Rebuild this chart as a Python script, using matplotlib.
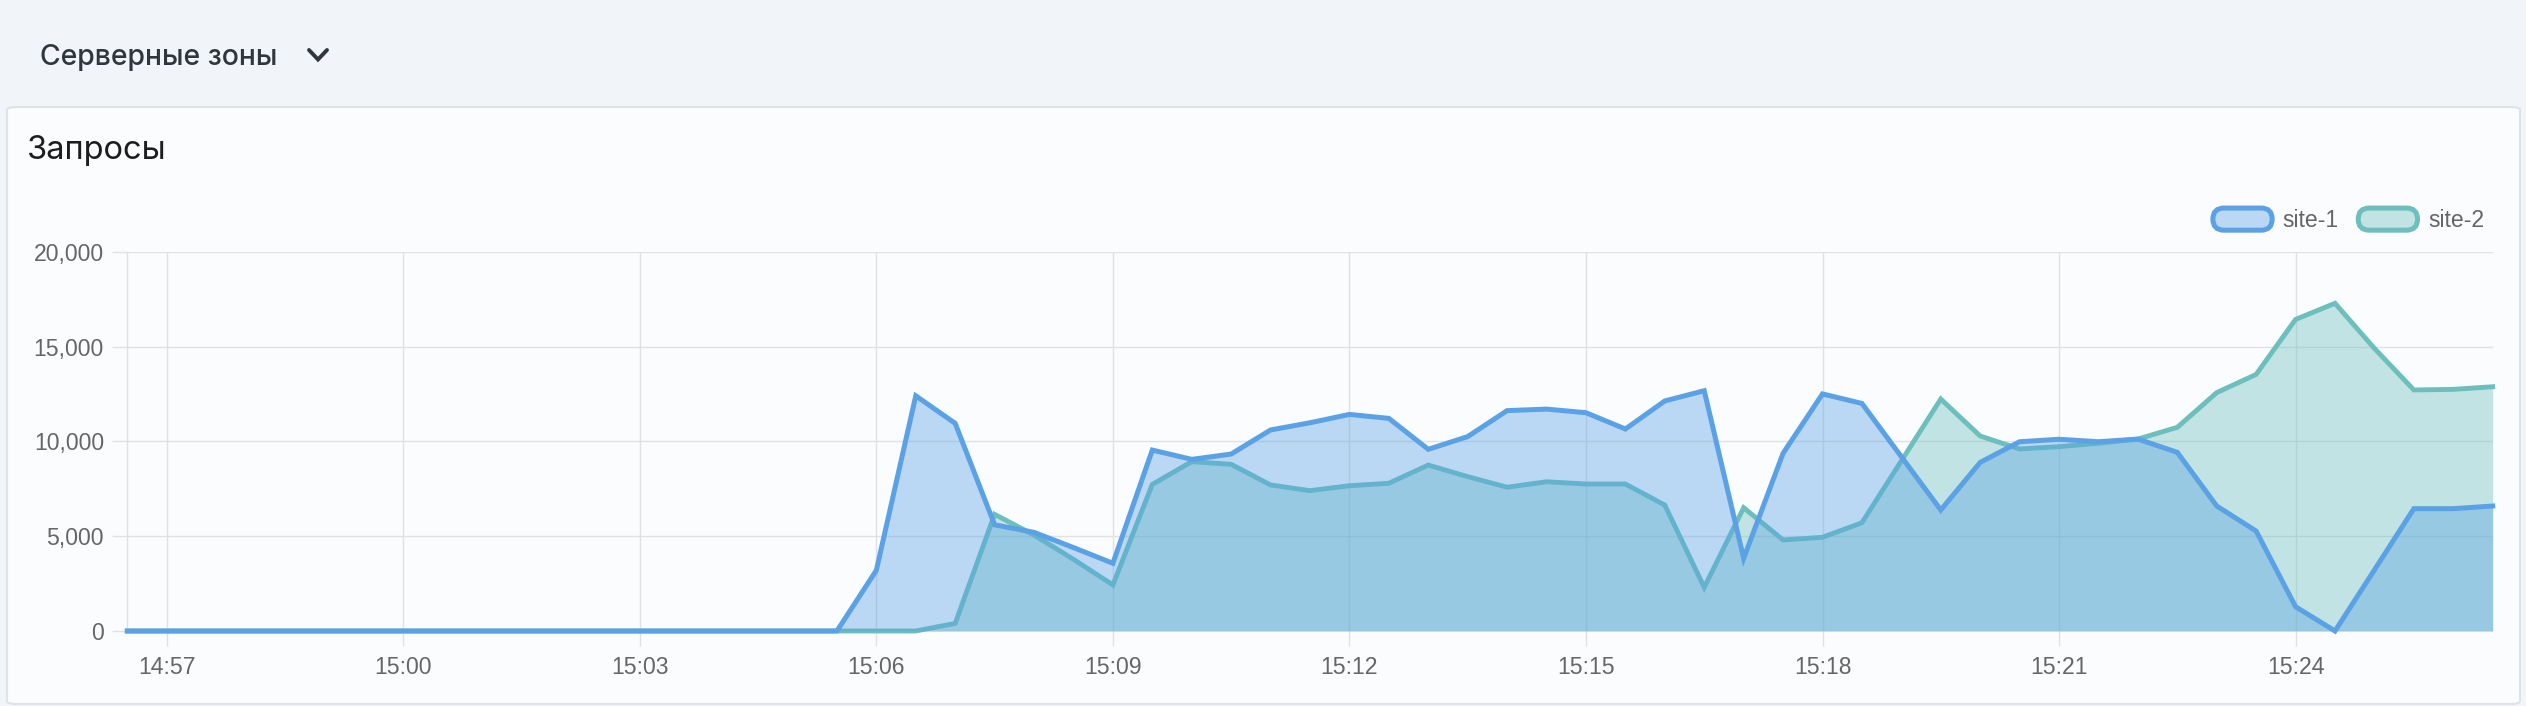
import matplotlib
matplotlib.use("Agg")
import matplotlib.pyplot as plt
import matplotlib.dates as mdates
import matplotlib.patches as mpatches
from matplotlib.patches import FancyBboxPatch
from matplotlib.legend_handler import HandlerBase
from matplotlib.ticker import FuncFormatter
import pandas as pd

# ---------------- data ----------------
start_time = "2024-01-01 14:56:30"
n_points = 61
step = "30s"

site1 = [0, 0, 0, 0, 0, 0, 0, 0, 0, 0, 0, 0, 0, 0, 0, 0, 0, 0, 0,
         3200, 12400, 10950, 5600, 5200, 4400, 3570, 9540, 9050, 9330,
         10600, 10980, 11420, 11210, 9580, 10250, 11620, 11700, 11510, 10650,
         12130, 12670, 3830, 9370, 12500, 12000, 9190, 6380, 8890, 9980,
         10110, 9980, 10120, 9420, 6590, 5270, 1280, 0, 3220, 6450,
         6450, 6590]
site2 = [0, 0, 0, 0, 0, 0, 0, 0, 0, 0, 0, 0, 0, 0, 0, 0, 0, 0, 0,
         0, 0, 400, 6150, 5060, 3780, 2430, 7730, 8930, 8790,
         7700, 7400, 7660, 7790, 8750, 8140, 7580, 7870, 7750, 7750,
         6640, 2300, 6500, 4800, 4940, 5710, 8970, 12230, 10280, 9600,
         9720, 9900, 10120, 10740, 12570, 13530, 16430, 17280, 14900, 12710,
         12740, 12880]
series_names = ["site-1", "site-2"]
y_ticks = [0, 5000, 10000, 15000, 20000]
header_text = "Серверные зоны"
title_text = "Запросы"

times = pd.date_range(start_time, periods=n_points, freq=step)

# ---------------- style ----------------
W, H = 2526, 706
PAGE_BG = "#f1f4f8"
CARD_BG = "#fbfcfd"
CARD_EDGE = "#dfe3e8"
GRID = "#e0e1e3"
BLUE = "#5aa2e5"
TEAL = "#6cbfbc"
TICK_TXT = "#666666"
FS = 16.6

plt.rcParams["font.family"] = ["Liberation Sans", "DejaVu Sans"]

fig = plt.figure(figsize=(W / 100, H / 100), dpi=100, facecolor=PAGE_BG)

# card
card = FancyBboxPatch((7 / W, 2 / H), (2520 - 7) / W, (599 - 2) / H,
                      boxstyle="round,pad=0,rounding_size=0.004",
                      transform=fig.transFigure, facecolor=CARD_BG,
                      edgecolor=CARD_EDGE, linewidth=1.5, zorder=-10)
fig.patches.append(card)

# header texts
fig.text(40 / W, (H - 65) / H, header_text, fontsize=20.4, color="#30363c",
         family=["Inter", "DejaVu Sans"], fontweight="medium", va="baseline", ha="left")
fig.lines.append(plt.Line2D([309 / W, 318 / W, 327 / W],
                            [(H - 50) / H, (H - 59.5) / H, (H - 50) / H],
                            transform=fig.transFigure, color="#30363c", linewidth=2.8,
                            solid_capstyle="round", solid_joinstyle="miter"))
fig.text(27 / W, (H - 159) / H, title_text, fontsize=23.5, color="#1d1d1f",
         family=["Inter", "DejaVu Sans"], va="baseline", ha="left")

# axes
left, right, top, bottom = 127.3, 2492.7, 251.7, 631.0
ax = fig.add_axes([left / W, (H - bottom) / H, (right - left) / W, (bottom - top) / H])
ax.set_facecolor("none")

ax.fill_between(times, 0, site2, color=TEAL, alpha=0.4, linewidth=0, zorder=2)
ax.plot(times, site2, color=TEAL, linewidth=3.5, zorder=3, clip_on=False,
        solid_joinstyle="miter")
ax.fill_between(times, 0, site1, color=BLUE, alpha=0.4, linewidth=0, zorder=4)
ax.plot(times, site1, color=BLUE, linewidth=3.6, zorder=5, clip_on=False,
        solid_joinstyle="miter")

ax.set_xlim(times[0], times[-1])
ax.set_ylim(y_ticks[0], y_ticks[-1])
ax.set_yticks(y_ticks)
ax.yaxis.set_major_formatter(FuncFormatter(lambda v, p: f"{int(v):,}"))
ax.xaxis.set_major_locator(mdates.MinuteLocator(byminute=range(0, 60, 3)))
ax.xaxis.set_major_formatter(mdates.DateFormatter("%H:%M"))

ax.grid(True, color=GRID, linewidth=1.0, zorder=1)
ax.set_axisbelow(True)
for s in ["top", "right", "bottom"]:
    ax.spines[s].set_visible(False)
ax.spines["left"].set_color(GRID)
ax.spines["left"].set_linewidth(1.0)
ax.tick_params(axis="both", colors=GRID, length=11, width=1.0, labelsize=FS,
               labelcolor=TICK_TXT)
ax.tick_params(axis="y", pad=5.8)
ax.tick_params(axis="x", pad=7.0)


# legend with pill handles
class PillHandler(HandlerBase):
    def create_artists(self, legend, orig_handle, xdescent, ydescent, width, height,
                       fontsize, trans):
        p = FancyBboxPatch((-xdescent, -ydescent), width, height,
                           boxstyle=f"round,pad=0,rounding_size={height / 2}",
                           facecolor=orig_handle.get_facecolor(),
                           edgecolor=orig_handle.get_edgecolor(),
                           linewidth=orig_handle.get_linewidth(), transform=trans)
        return [p]


handles = [mpatches.Patch(facecolor=(*matplotlib.colors.to_rgb(BLUE), 0.4), edgecolor=BLUE,
                          linewidth=3.6, label=series_names[0]),
           mpatches.Patch(facecolor=(*matplotlib.colors.to_rgb(TEAL), 0.4), edgecolor=TEAL,
                          linewidth=3.6, label=series_names[1])]
leg = fig.legend(handles=handles, loc="center right",
                 bbox_to_anchor=(2484 / W, (H - 220) / H), bbox_transform=fig.transFigure,
                 ncol=2, frameon=False, fontsize=FS, labelcolor=TICK_TXT,
                 handler_map={mpatches.Patch: PillHandler()},
                 handlelength=2.57, handleheight=1.1, handletextpad=0.45,
                 columnspacing=0.85, borderpad=0, borderaxespad=0)

fig.savefig("out.png", dpi=100, facecolor=PAGE_BG)
